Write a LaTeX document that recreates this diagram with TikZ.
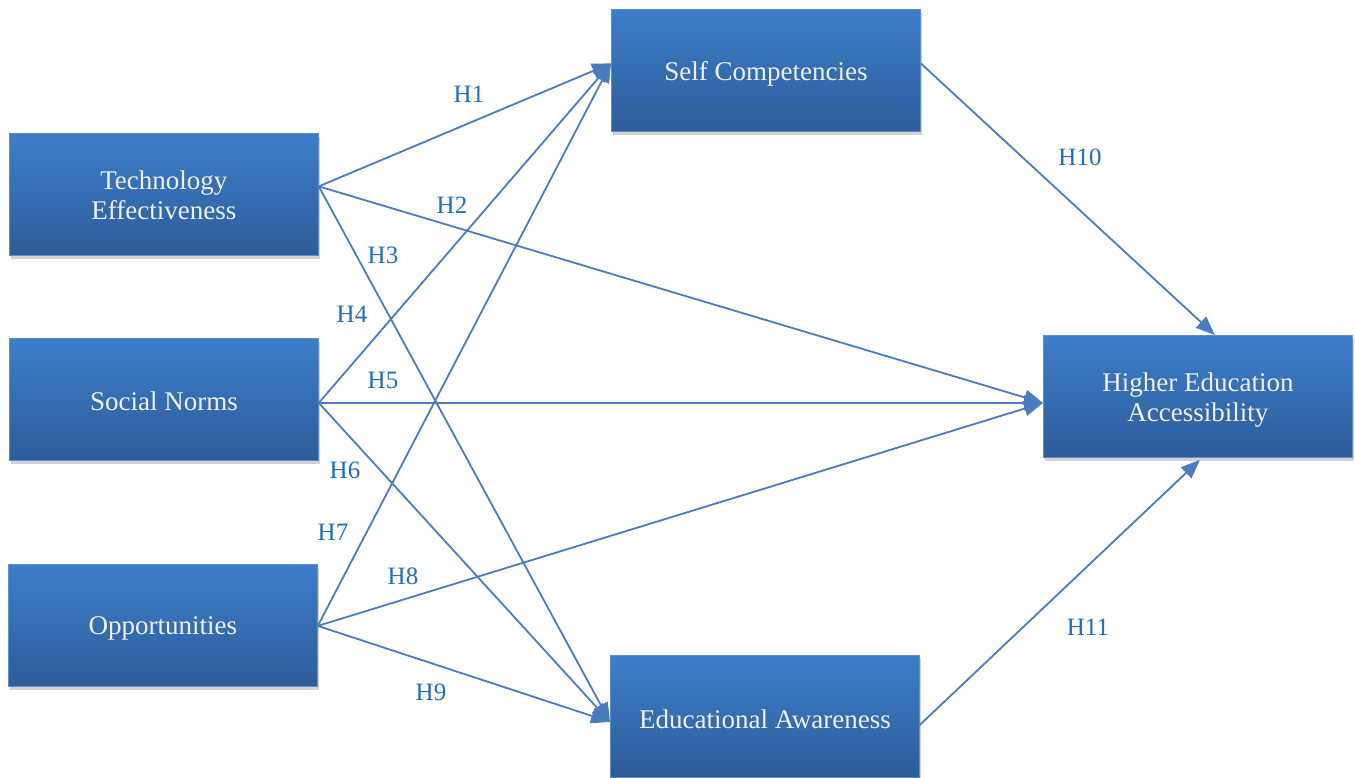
\documentclass[tikz,border=0pt]{standalone}
\usepackage{fontspec}
\setmainfont{Liberation Serif}
\usetikzlibrary{arrows.meta,shadows}
\definecolor{boxtop}{RGB}{60,126,202}
\definecolor{boxbot}{RGB}{46,92,154}
\definecolor{boxline}{RGB}{95,140,205}
\definecolor{lnc}{RGB}{74,124,190}
\definecolor{lblc}{RGB}{31,110,190}
\tikzset{
  box/.style={rectangle, anchor=north west, minimum width=309pt, minimum height=122pt,
    inner sep=0pt, top color=boxtop, bottom color=boxbot, draw=boxline, line width=0.8pt,
    drop shadow={shadow xshift=2pt, shadow yshift=-4pt, opacity=0.25, fill=black!70}},
  boxtext/.style={inner sep=0pt, text=white!94!black, align=center,
    font=\fontsize{27pt}{30pt}\selectfont},
  conn/.style={draw=lnc, line width=1.8pt, -{Triangle[length=19pt,width=15pt]}},
  hlab/.style={text=lblc, font=\fontsize{25pt}{28pt}\selectfont, inner sep=0pt}
}
\begin{document}
\begin{tikzpicture}[x=1pt,y=-1pt]
\useasboundingbox (0,0) rectangle (1355,778);
\node[box] (te) at (9,133) {};
\node[box] (sn) at (9,338) {};
\node[box] (op) at (8,564) {};
\node[box] (sc) at (611,9) {};
\node[box] (hea) at (1043,335) {};
\node[box] (ea) at (610,655) {};
\node[boxtext] (te-t) at ([yshift=-1pt]te.center) {Technology\\Effectiveness};
\node[boxtext] (sn-t) at ([yshift=-2pt]sn.center) {Social Norms};
\node[boxtext] (op-t) at ([yshift=-3pt]op.center) {Opportunities};
\node[boxtext] (sc-t) at ([yshift=-3pt]sc.center) {Self Competencies};
\node[boxtext] (hea-t) at ([yshift=-4pt]hea.center) {Higher Education\\Accessibility};
\node[boxtext] (ea-t) at ([yshift=-3pt]ea.center) {Educational Awareness};
% connection points
\coordinate (teo) at ([yshift=8pt]te.east);
\coordinate (sno) at ([yshift=-3.5pt]sn.east);
\coordinate (opo) at ([yshift=-0.5pt]op.east);
\coordinate (sci) at ([yshift=7pt]sc.west);
\coordinate (sco) at ([yshift=7pt]sc.east);
\coordinate (heai) at ([yshift=-6.5pt]hea.west);
\coordinate (heat) at ([xshift=17pt]hea.north);
\coordinate (heab) at ([xshift=2pt,yshift=-2pt]hea.south);
\coordinate (eai) at ([yshift=-5.5pt]ea.west);
\coordinate (eao) at ([yshift=-8.5pt]ea.east);
% connectors
\draw[conn] (teo) -- (sci);
\draw[conn] (teo) -- (heai);
\draw[conn] (teo) -- (eai);
\draw[conn] (sno) -- (sci);
\draw[conn] (sno) -- (heai);
\draw[conn] (sno) -- (eai);
\draw[conn] (opo) -- (sci);
\draw[conn] (opo) -- (heai);
\draw[conn] (opo) -- (eai);
\draw[conn] (sco) -- (heat);
\draw[conn] (eao) -- (heab);
% labels
\node[hlab] (h1) at (469,94) {H1};
\node[hlab] (h2) at (452,205) {H2};
\node[hlab] (h3) at (383,255) {H3};
\node[hlab] (h4) at (352,314) {H4};
\node[hlab] (h5) at (383,380) {H5};
\node[hlab] (h6) at (345,470) {H6};
\node[hlab] (h7) at (333,532) {H7};
\node[hlab] (h8) at (403,576) {H8};
\node[hlab] (h9) at (431,692) {H9};
\node[hlab] (h10) at (1080,157) {H10};
\node[hlab] (h11) at (1088,627) {H11};
\end{tikzpicture}
\end{document}
